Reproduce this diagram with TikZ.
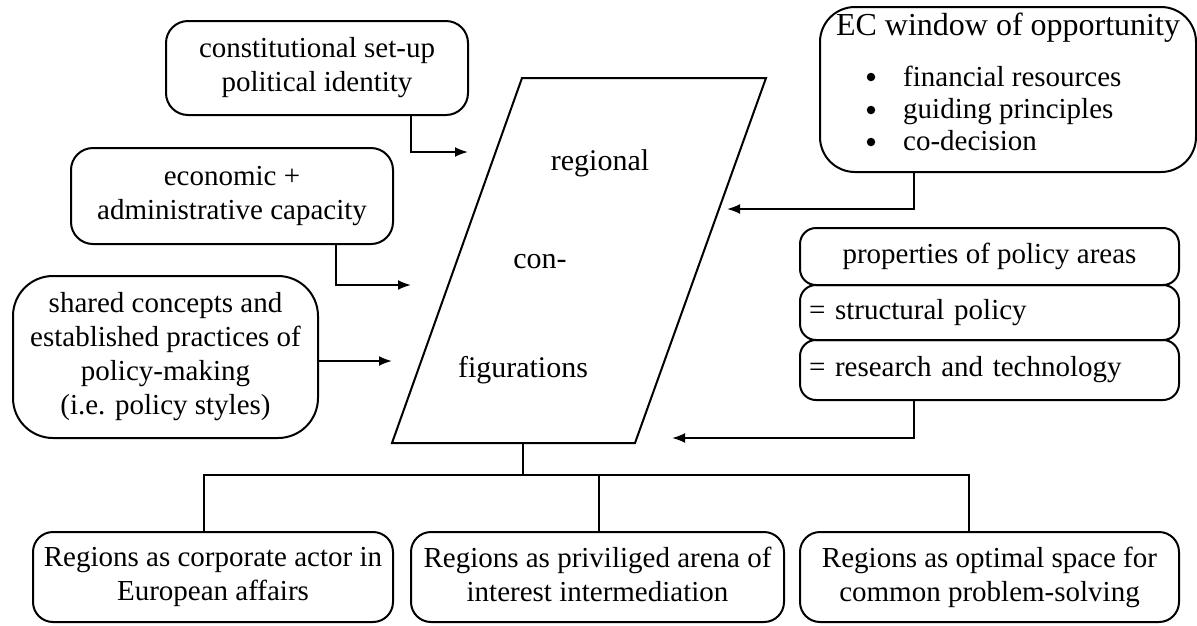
\documentclass[tikz,border=0pt]{standalone}
\usepackage{fontspec}
\setmainfont{Liberation Serif}
\usetikzlibrary{arrows.meta}
\begin{document}
\begin{tikzpicture}[x=1pt,y=-1pt,
  box/.style={draw, line width=2pt, rounded corners=22pt, align=center, inner sep=0pt,
    font=\fontsize{29}{34}\selectfont},
  txt/.style={inner sep=0pt, font=\fontsize{29}{34}\selectfont},
  bul/.style={circle, fill=black, inner sep=0pt, minimum size=8.5pt},
  big/.style={inner sep=0pt, font=\fontsize{30}{34}\selectfont},
  arr/.style={line width=2pt, -{Latex[length=13pt,width=10pt]}},
  ln/.style={line width=2pt}]
\useasboundingbox (0,0) rectangle (1197,625);

% left boxes
\node[box, minimum width=302pt, minimum height=94pt] (b1) at (317,68)
  {constitutional set-up\\political identity};
\node[box, minimum width=322pt, minimum height=96pt] (b2) at (232,196)
  {economic +\\administrative capacity};
\node[box, rounded corners=40pt, minimum width=305pt, minimum height=162pt] (b3) at (165.5,357)
  {shared concepts and\\established practices of\\policy-making\\(i.e. policy styles)};

% EC box
\node[box, rounded corners=35pt, minimum width=376pt, minimum height=165pt] (ec) at (1008,89.5) {};
\node[inner sep=0pt, font=\fontsize{32}{34}\selectfont, anchor=base] (ect) at (1008,35) {EC window of opportunity};
\node[bul] (bu1) at (871,77) {};
\node[txt, anchor=base west] (it1) at (903,86) {financial resources};
\node[bul] (bu2) at (871,110) {};
\node[txt, anchor=base west] (it2) at (903,118) {guiding principles};
\node[bul] (bu3) at (871,142) {};
\node[txt, anchor=base west] (it3) at (903,150) {co-decision};

% properties boxes
\node[box, rounded corners=16pt, minimum width=379pt, minimum height=57pt] (p1) at (989.5,256.5)
  {properties of policy areas};
\node[box, rounded corners=16pt, minimum width=379pt, minimum height=55pt, text width=361pt, align=left] (p2) at (989.5,312.5)
  {= structural policy};
\node[box, rounded corners=16pt, minimum width=379pt, minimum height=60pt, text width=361pt, align=left] (p3) at (989.5,370)
  {= research and technology};

% parallelogram
\coordinate (pTL) at (522,78);
\coordinate (pTR) at (766,78);
\coordinate (pBR) at (635,443);
\coordinate (pBL) at (392,443);
\draw[ln, line join=miter] (pTL) -- (pTR) -- (pBR) -- (pBL) -- cycle;
\node[big] (t1) at (600,163) {regional};
\node[big] (t2) at (540,262) {con-};
\node[big] (t3) at (523,370) {figurations};

% bottom boxes
\node[box, rounded corners=20pt, minimum width=360pt, minimum height=90pt] (ra) at (213,577)
  {Regions as corporate actor in\\European affairs};
\node[box, rounded corners=20pt, minimum width=373pt, minimum height=90pt] (rb) at (597.5,577)
  {Regions as priviliged arena of\\interest intermediation\vphantom{p}};
\node[box, rounded corners=20pt, minimum width=379pt, minimum height=90pt] (rc) at (989.5,577)
  {Regions as optimal space for\\common problem-solving};

% arrows into configurations
\coordinate (a1) at (468,152);
\coordinate (a2) at (411,285);
\coordinate (a3) at (392,361);
\coordinate (a4) at (727,209);
\coordinate (a5) at (672,438);
\draw[arr] ([xshift=94pt]b1.south) |- (a1);
\draw[arr] ([xshift=104pt]b2.south) |- (a2);
\draw[arr] (b3.east |- a3) -- (a3);
\draw[arr] ([xshift=-94pt]ec.south) |- (a4);
\draw[arr] ([xshift=-75.5pt]p3.south) |- (a5);

% tree
\coordinate (stem) at (523,443);
\coordinate (hl) at (204,475);
\coordinate (hm) at (599,475);
\coordinate (hr) at (969,475);
\draw[ln] (stem) -- (stem |- hl);
\draw[ln] (ra.north -| hl) -- (hl) -- (hr) -- (rc.north -| hr);
\draw[ln] (hm) -- (rb.north -| hm);
\end{tikzpicture}
\end{document}
